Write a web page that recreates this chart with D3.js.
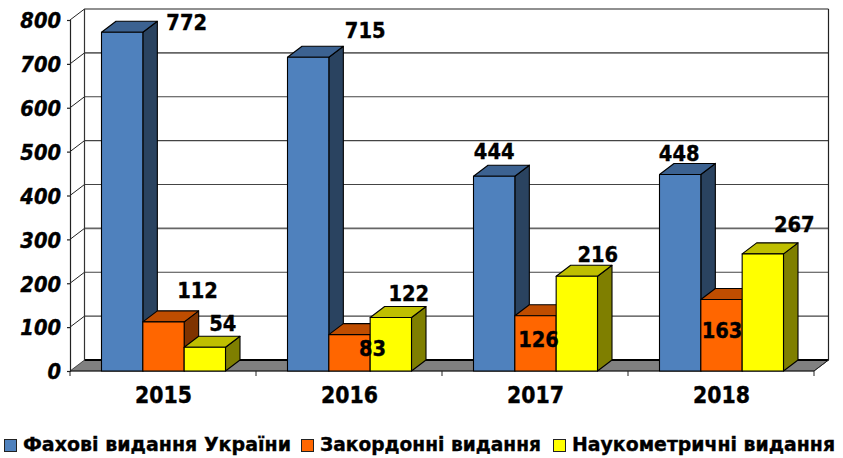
<!DOCTYPE html>
<html><head><meta charset="utf-8">
<script src="https://cdn.jsdelivr.net/npm/d3@7/dist/d3.min.js"></script>
<style>html,body{margin:0;padding:0;background:#fff}svg{display:block}text{font-family:"DejaVu Sans",Verdana,sans-serif;font-weight:bold;fill:#000;stroke:#000;stroke-width:0.35px}</style>
</head><body><svg id="c" width="843" height="458"></svg>
<script>
const years = ["2015","2016","2017","2018"];
const seriesNames = ["Фахові видання України","Закордонні видання","Наукометричні видання"];
const fahovi = [772,715,444,448];
const zakordonni = [112,83,126,163];
const naukometrychni = [54,122,216,267];
const yTicks = [0,100,200,300,400,500,600,700,800];
const frontColors = ["#4F81BD","#FF6600","#FFFF00"];
const topColors = ["#3C6291","#BF4D00","#BFBF00"];
const sideColors = ["#2A4360","#7F3300","#7F7F00"];
// hand-placed data label anchors: [dx from bar centre, dy from bar top], per series, per year
const labelShift = [
  [[64.5,-2.3],[57,-19],[0,-17],[-1,-13.4]],
  [[34,-24],[23,21.5],[3,31],[0.5,38.5]],
  [[18,-16],[18,-16.5],[21,-14],[31.5,-22]]
];
const legendWidths = [268,221,263];
const allSeries = [fahovi,zakordonni,naukometrychni];
const dx=14.5, dy=-11, SY=1.12;
const x = d3.scaleBand().domain(years).range([70,814]);
const g = d3.scaleBand().domain([0,1,2]).range([31.5,155.5]);
const y = d3.scaleLinear().domain([0,800]).range([371,20]);
const svg = d3.select("#c");
const X0=70,X1=814,Y0=y(0),Y1=y(800);
const pts=a=>a.map(p=>p.join(",")).join(" ");
// floor
svg.append("polygon").attr("points",pts([[X0,Y0],[X0+dx,Y0+dy],[X1+dx,Y0+dy],[X1,Y0]])).attr("fill","#808080").attr("stroke","#000").attr("stroke-width",0.6);
svg.append("line").attr("x1",X0+dx).attr("x2",X1+dx).attr("y1",Y0+dy).attr("y2",Y0+dy).attr("stroke","#000").attr("stroke-width",2);
// grid
yTicks.slice(1).forEach((t,i)=>{
  const yy=y(t);
  svg.append("line").attr("x1",X0+dx).attr("x2",X1+dx).attr("y1",yy+dy).attr("y2",yy+dy).attr("stroke",t==800?"#222":(t==700||t==300?"#666":"#444")).attr("stroke-width",t==700||t==300?1.6:1.2);
  svg.append("line").attr("x1",X0).attr("x2",X0+dx).attr("y1",yy).attr("y2",yy+dy).attr("stroke","#222").attr("stroke-width",1);
});
svg.append("line").attr("x1",X0+dx).attr("x2",X0+dx).attr("y1",Y1+dy).attr("y2",Y0+dy).attr("stroke","#333").attr("stroke-width",1.2);
svg.append("line").attr("x1",X1+dx).attr("x2",X1+dx).attr("y1",Y1+dy).attr("y2",Y0+dy).attr("stroke","#222").attr("stroke-width",1.2);
// axes
const axisL=svg.append("g").attr("transform",`translate(${X0},0)`).call(d3.axisLeft(y).tickValues(yTicks).tickSize(3).tickFormat(d3.format("d")));
axisL.selectAll("path,line").attr("stroke","#222").attr("stroke-width",1.2);
axisL.selectAll("text").attr("font-size",19.5).attr("font-style","italic").attr("x",0).attr("y",0).attr("dy","0.36em").attr("transform",`translate(-9,0) scale(1,${SY})`).style("font-family",'"DejaVu Sans",sans-serif').attr("fill","#000");
const edges=d3.scalePoint().domain(d3.range(years.length+1)).range([X0,X1]);
svg.append("g").selectAll("line").data(d3.range(years.length+1)).join("line").attr("x1",d=>edges(d)).attr("x2",d=>edges(d)).attr("y1",Y0).attr("y2",Y0+5).attr("stroke","#222");
svg.append("line").attr("x1",X0).attr("x2",X1).attr("y1",Y0).attr("y2",Y0).attr("stroke","#222");
svg.append("line").attr("x1",X1).attr("x2",X1+dx).attr("y1",Y0).attr("y2",Y0+dy).attr("stroke","#222");
// bars
years.forEach((yr,i)=>{
  allSeries.forEach((s,k)=>{
    const l=x(yr)+g(k), r=l+g.bandwidth(), t=y(s[i]), b=Y0;
    const gg=svg.append("g").attr("stroke","#000").attr("stroke-width",1.1).attr("stroke-linejoin","round");
    gg.append("polygon").attr("points",pts([[r,t],[r+dx,t+dy],[r+dx,b+dy],[r,b]])).attr("fill",sideColors[k]);
    gg.append("polygon").attr("points",pts([[l,t],[l+dx,t+dy],[r+dx,t+dy],[r,t]])).attr("fill",topColors[k]);
    gg.append("rect").attr("x",l).attr("y",t).attr("width",r-l).attr("height",b-t).attr("fill",frontColors[k]);
  });
});
// data labels
years.forEach((yr,i)=>{
  allSeries.forEach((s,k)=>{
    const c=x(yr)+g(k)+g.bandwidth()/2, t=y(s[i]), sh=labelShift[k][i];
    svg.append("text").attr("transform",`translate(${c+sh[0]},${t+sh[1]}) scale(1,${SY})`).attr("text-anchor","middle").attr("font-size",19.5).text(s[i]);
  });
});
// category labels
svg.append("g").selectAll("text").data(years).join("text").attr("transform",d=>`translate(${x(d)+x.bandwidth()/2+0.5},403) scale(1,${SY})`).attr("text-anchor","middle").attr("font-size",20.5).text(d=>d);
// legend
const legX=[4,301,553];
seriesNames.forEach((n,k)=>{
  svg.append("rect").attr("x",legX[k]+.5).attr("y",439.5).attr("width",12).attr("height",12).attr("fill",frontColors[k]).attr("stroke","#222");
  svg.append("text").attr("x",legX[k]+19).attr("y",451).attr("font-size",19).attr("textLength",legendWidths[k]).attr("lengthAdjust","spacingAndGlyphs").text(n);
});
</script></body></html>
